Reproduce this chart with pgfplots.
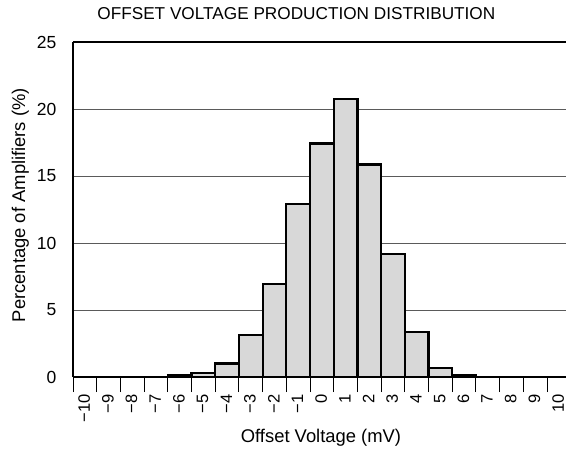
\documentclass[border=0pt]{standalone}
\usepackage{fontspec}
\setmainfont{Liberation Sans}
\usepackage{pgfplots}
\pgfplotsset{compat=1.18}
\definecolor{barfill}{RGB}{216,216,216}
\definecolor{gridc}{RGB}{90,90,90}
\begin{document}
\begin{tikzpicture}
\begin{axis}[
  scale only axis,
  width=493pt, height=335pt,
  xmin=-10, xmax=10.8, ymin=0, ymax=25,
  axis lines*=left,
  axis line style={line width=2.2pt, black},
  /pgf/number format/assume math mode=true,
  xtick={-10,-9,...,10},
  xticklabels={},
  tick align=outside,
  major tick length=15pt,
  x tick style={black, line width=0.9pt},
  extra x ticks={-9.53,-8.53,-7.53,-6.53,-5.53,-4.53,-3.53,-2.53,-1.53,-0.53,0.47,1.47,2.47,3.47,4.47,5.47,6.47,7.47,8.47,9.47,10.47},
  extra x tick labels={−10,−9,−8,−7,−6,−5,−4,−3,−2,−1,0,1,2,3,4,5,6,7,8,9,10},
  extra x tick style={major tick length=0pt, tick style={draw=none}, xticklabel style={rotate=90, anchor=east, inner sep=0pt}, xticklabel shift=17pt},
  xticklabel style={font=\fontsize{16.5}{18}\selectfont},
  ytick={0,5,...,25},
  y tick style={draw=none},
  yticklabel style={font=\fontsize{17.5}{19}\selectfont, inner sep=0pt},
  yticklabel shift=1.5pt,
  ymajorgrids,
  grid style={gridc, line width=0.8pt},
  title={OFFSET VOLTAGE PRODUCTION DISTRIBUTION},
  title style={at={(axis description cs:0.453,1.0478)}, anchor=base, inner sep=0pt, font=\fontsize{17.2}{19}\selectfont},
  xlabel={Offset Voltage (mV)},
  every axis x label/.style={at={(axis description cs:0.503,-0.197)}, anchor=base, inner sep=0pt, font=\fontsize{18.4}{20}\selectfont},
  ylabel={Percentage of Amplifiers (\%)},
  every axis y label/.style={at={(axis description cs:-0.097,0.513)}, rotate=90, anchor=base, inner sep=0pt, font=\fontsize{18.4}{20}\selectfont},
]
\addplot[ybar interval, fill=barfill, draw=black, line width=2.2pt] coordinates {
(-6,0.12) (-5,0.27) (-4,1.0) (-3,3.15) (-2,6.97) (-1,12.9) (0,17.43) (1,20.74) (2,15.86) (3,9.16) (4,3.33) (5,0.7) (6,0.12) (7,0.12)};
\draw[line width=2.2pt, black] (rel axis cs:0,1) -- (rel axis cs:1.01,1);
\coordinate (bl) at (rel axis cs:0,0);
\coordinate (tr) at (rel axis cs:1,1);
\end{axis}
\pgfresetboundingbox
\path[use as bounding box] ([xshift=-73pt,yshift=-73pt]bl) rectangle ([yshift=42pt]tr);
\end{tikzpicture}
\end{document}
